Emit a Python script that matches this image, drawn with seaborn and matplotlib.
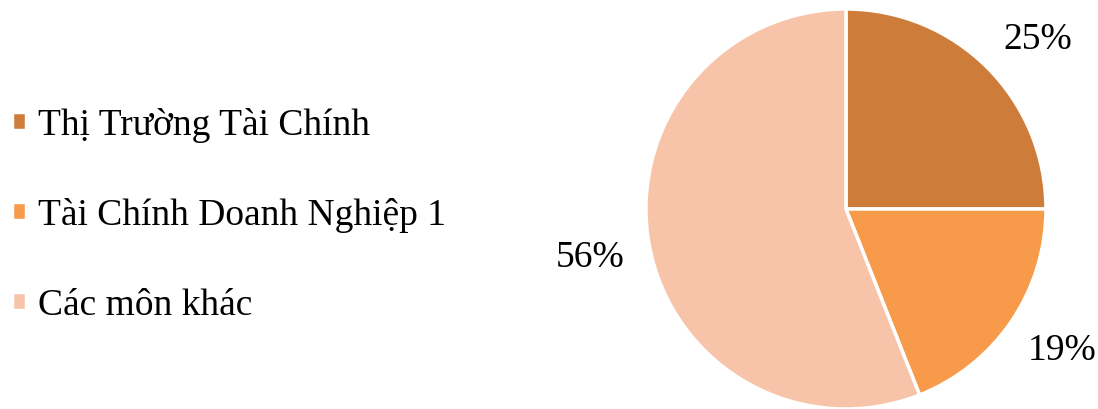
import numpy as np
import matplotlib.pyplot as plt
import seaborn as sns

# du lieu
labels = ["Thị Trường Tài Chính", "Tài Chính Doanh Nghiệp 1", "Các môn khác"]
values = [25, 19, 56]
colors = ["#CD7C3A", "#F79A4A", "#F8C4A9"]

sns.set_style("white")
plt.rcParams['font.family'] = ['Liberation Serif', 'DejaVu Serif']
plt.rcParams['text.color'] = 'black'

fig = plt.figure(figsize=(10.98, 4.09), dpi=100)
ax = fig.add_axes([0.5883, 0.0, 0.7286 * 0.5, 0.978])

wedges, texts, autotexts = ax.pie(
    values, colors=colors, startangle=90, counterclock=False,
    autopct=lambda p: "%d%%" % round(p), pctdistance=1.29,
    wedgeprops=dict(edgecolor="white", linewidth=2.5),
    textprops=dict(fontsize=27, color="black"))

# chinh vi tri nhan phan tram cho giong Excel
shift = [-3.5, 1.0, 0.0]
dist = [1.28, 1.29, 1.30]
for w, t, s, d in zip(wedges, autotexts, shift, dist):
    a = np.deg2rad((w.theta1 + w.theta2) / 2 + s)
    t.set_position((d * np.cos(a), d * np.sin(a)))

ax.set_xlim(-1, 1)
ax.set_ylim(-1, 1)
ax.set_aspect("equal")

fig.legend(wedges, labels, loc="center left", bbox_to_anchor=(0.011, 0.474),
           frameon=False, fontsize=27, handlelength=0.36, handleheight=0.36,
           handletextpad=0.32, labelspacing=1.47, borderpad=0, borderaxespad=0)

plt.savefig("out.png", dpi=100)
